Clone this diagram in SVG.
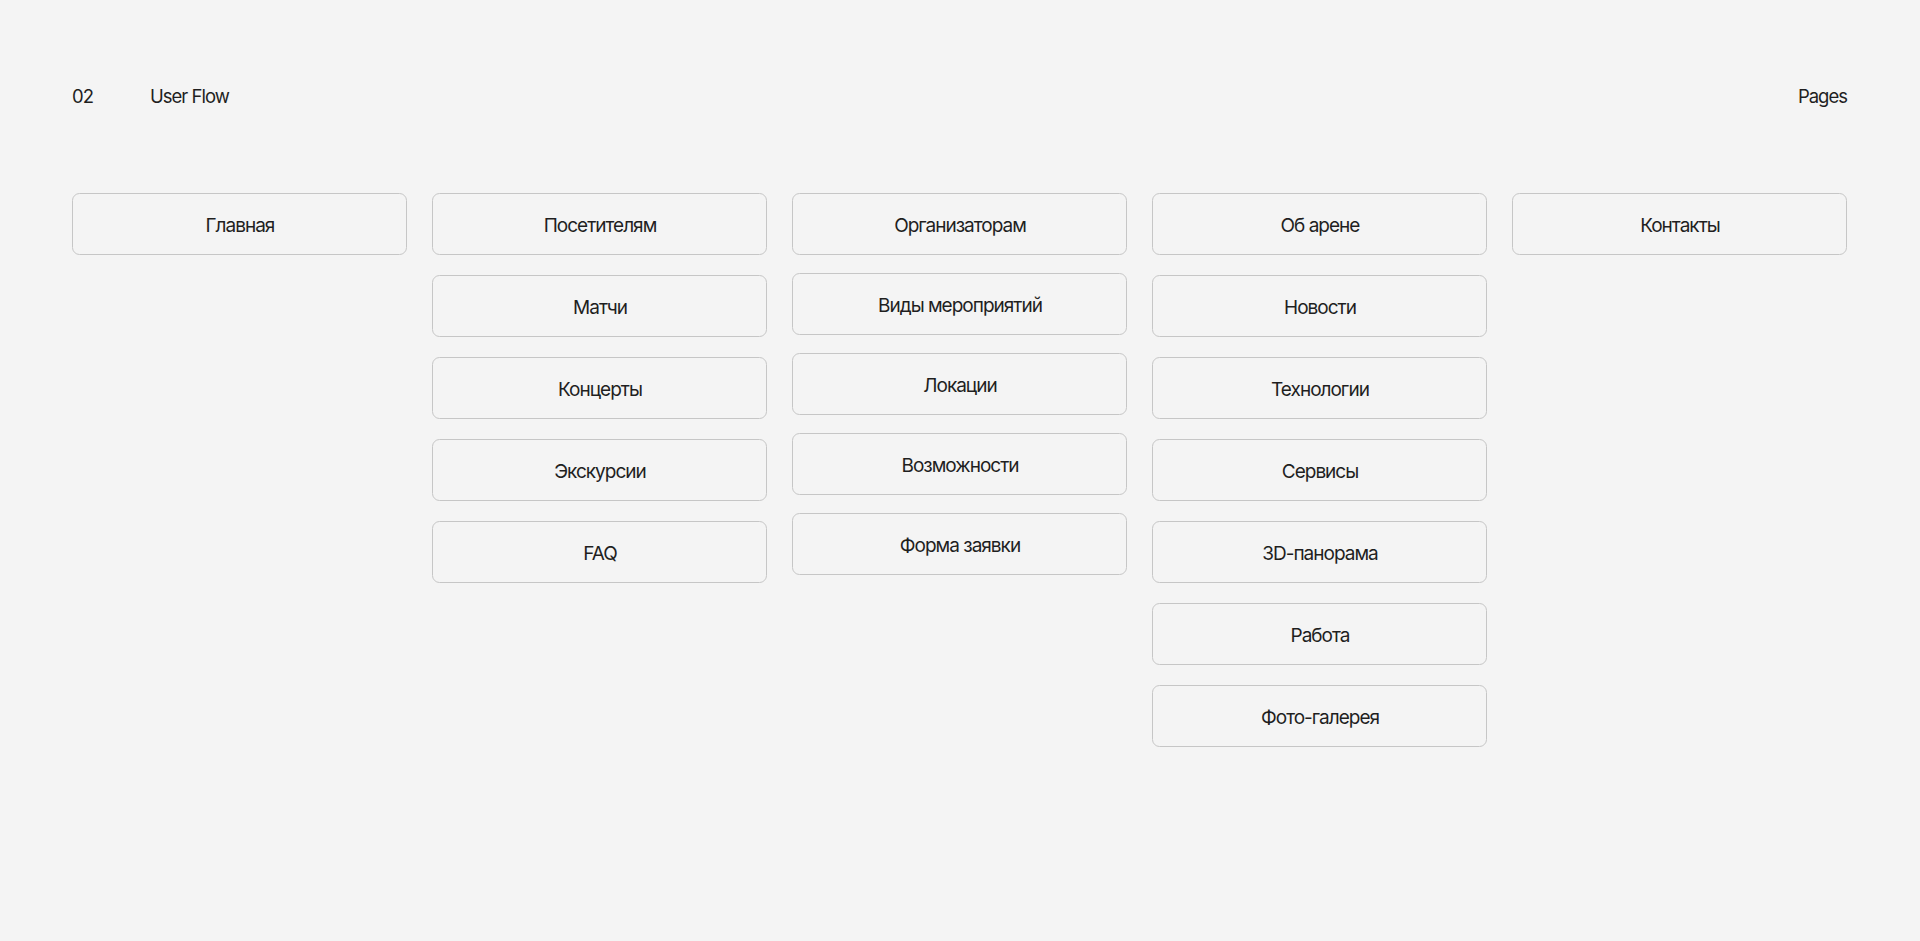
<svg xmlns="http://www.w3.org/2000/svg" width="1920" height="941" viewBox="0 0 1920 941">
<style>
.bg{fill:#f4f4f4}
.box{fill:#f4f4f4;stroke:#c6c6c6;stroke-width:1}
.t{font-family:Inter,"Noto Sans",sans-serif;font-size:19px;fill:#1f1f1f;text-anchor:middle;letter-spacing:-1px}
.h{font-family:Inter,"Noto Sans",sans-serif;font-size:18.5px;fill:#1f1f1f;letter-spacing:-1px}
</style>
<rect class="bg" x="0" y="0" width="1920" height="941"/>
<g id="header">
<text class="h" x="72" y="102.5">02</text>
<text class="h" x="150" y="102.5">User Flow</text>
<text class="h" x="1847" y="102.5" text-anchor="end">Pages</text>
</g>
<g id="connectors"></g>
<g id="n-glavnaya"><rect class="box" x="72.5" y="193.5" width="334" height="61" rx="7"/><text class="t" x="240" y="231.5">Главная</text></g>
<g id="n-posetitelyam"><rect class="box" x="432.5" y="193.5" width="334" height="61" rx="7"/><text class="t" x="600" y="231.5">Посетителям</text></g>
<g id="n-matchi"><rect class="box" x="432.5" y="275.5" width="334" height="61" rx="7"/><text class="t" x="600" y="313.5">Матчи</text></g>
<g id="n-koncerty"><rect class="box" x="432.5" y="357.5" width="334" height="61" rx="7"/><text class="t" x="600" y="395.5">Концерты</text></g>
<g id="n-ekskursii"><rect class="box" x="432.5" y="439.5" width="334" height="61" rx="7"/><text class="t" x="600" y="477.5">Экскурсии</text></g>
<g id="n-faq"><rect class="box" x="432.5" y="521.5" width="334" height="61" rx="7"/><text class="t" x="600" y="559.5">FAQ</text></g>
<g id="n-organizatoram"><rect class="box" x="792.5" y="193.5" width="334" height="61" rx="7"/><text class="t" x="960" y="231.5">Организаторам</text></g>
<g id="n-vidy"><rect class="box" x="792.5" y="273.5" width="334" height="61" rx="7"/><text class="t" x="960" y="311.5">Виды мероприятий</text></g>
<g id="n-lokacii"><rect class="box" x="792.5" y="353.5" width="334" height="61" rx="7"/><text class="t" x="960" y="391.5">Локации</text></g>
<g id="n-vozmozhnosti"><rect class="box" x="792.5" y="433.5" width="334" height="61" rx="7"/><text class="t" x="960" y="471.5">Возможности</text></g>
<g id="n-forma"><rect class="box" x="792.5" y="513.5" width="334" height="61" rx="7"/><text class="t" x="960" y="551.5">Форма заявки</text></g>
<g id="n-ob-arene"><rect class="box" x="1152.5" y="193.5" width="334" height="61" rx="7"/><text class="t" x="1320" y="231.5">Об арене</text></g>
<g id="n-novosti"><rect class="box" x="1152.5" y="275.5" width="334" height="61" rx="7"/><text class="t" x="1320" y="313.5">Новости</text></g>
<g id="n-tehnologii"><rect class="box" x="1152.5" y="357.5" width="334" height="61" rx="7"/><text class="t" x="1320" y="395.5">Технологии</text></g>
<g id="n-servisy"><rect class="box" x="1152.5" y="439.5" width="334" height="61" rx="7"/><text class="t" x="1320" y="477.5">Сервисы</text></g>
<g id="n-3d"><rect class="box" x="1152.5" y="521.5" width="334" height="61" rx="7"/><text class="t" x="1320" y="559.5">3D-панорама</text></g>
<g id="n-rabota"><rect class="box" x="1152.5" y="603.5" width="334" height="61" rx="7"/><text class="t" x="1320" y="641.5">Работа</text></g>
<g id="n-foto"><rect class="box" x="1152.5" y="685.5" width="334" height="61" rx="7"/><text class="t" x="1320" y="723.5">Фото-галерея</text></g>
<g id="n-kontakty"><rect class="box" x="1512.5" y="193.5" width="334" height="61" rx="7"/><text class="t" x="1680" y="231.5">Контакты</text></g>
</svg>
